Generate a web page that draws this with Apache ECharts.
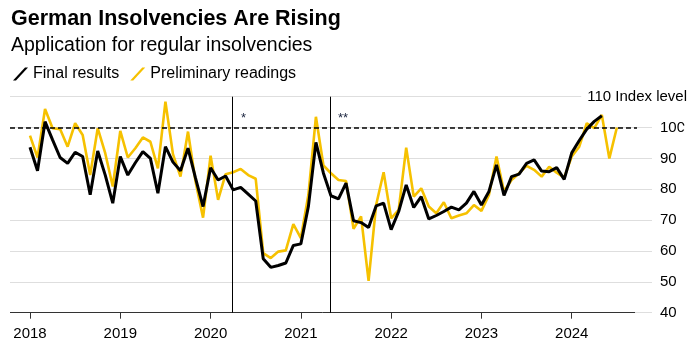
<!DOCTYPE html>
<html>
<head>
<meta charset="utf-8">
<script src="https://cdn.jsdelivr.net/npm/echarts@6/dist/echarts.min.js"></script>
<style>
  html, body { margin: 0; padding: 0; background: #fff; }
  #chart { width: 693px; height: 350px; }
</style>
</head>
<body>
<div id="chart"></div>
<script>
// monthly index values, first point = Jan 2018
var startYear = 2018;
var finalResults = [
  93.6, 86, 101.9, 96, 90.3, 88.4, 92, 90.6, 78.2, 92.4, 84.6, 75.5,
  90.6, 84.6, 88.6, 92.2, 90, 78.7, 93.8, 88.8, 86, 93.3, 83.6, 74.4,
  87, 83, 84.3, 79.8, 80.6, 78.4, 76.2, 57.5, 54.7, 55.3, 56.1, 61.8,
  62.3, 74.4, 95.2, 85.2, 77.9, 76.9, 82, 69.8, 69.2, 67.6, 74.6, 75.5,
  66.9, 72.8, 81.4, 74.1, 77.6, 70.4, 71.5, 72.8, 74.2, 73.3, 75.5, 79.3,
  74.9, 79.3, 87.9, 78, 84.1, 84.9, 88.4, 89.5, 85.9, 85.7, 87, 83.2,
  91.8, 95.8, 99.5, 102, 103.8
];
var preliminary = [
  97.4, 90.3, 106, 99.8, 99.5, 93.8, 101.4, 97.6, 84.6, 99.8, 91.7, 80.9,
  98.9, 90.3, 93.3, 96.8, 95.4, 86.8, 108.4, 91.4, 84.1, 98.7, 82.5, 70.8,
  90.9, 76.6, 84.9, 85.5, 86.6, 84.6, 83.4, 59.3, 57.7, 59.8, 60.2, 68.7,
  64.2, 78.2, 103.5, 87.7, 85.2, 83, 82.7, 67.2, 71.2, 50.3, 74.9, 85.5,
  70.6, 73.3, 93.5, 77.6, 80.3, 74.4, 72.2, 75.8, 70.6, 71.5, 72.2, 74.9,
  73, 78.2, 90.6, 79.3, 83, 85.2, 87.6, 86.3, 84.1, 87.3, 85.4, 83.8,
  90.6, 93.8, 101.4, 99.8, 104.1, 90, 100
];
var yearTicks = [2018, 2019, 2020, 2021, 2022, 2023, 2024];
var moratoriumLines = [2020.24, 2021.32]; // * and ** markers

var xMin = 2017.7785, xMax = 2024.889;
var fontFam = "'Liberation Sans', Arial, sans-serif";

function toPoints(arr) {
  return arr.map(function (v, i) { return [startYear + i / 12, v]; });
}

var chart = echarts.init(document.getElementById('chart'));
var option = {
  animation: false,
  textStyle: { fontFamily: fontFam },
  title: [{
    text: 'German Insolvencies Are Rising',
    left: 6, top: 3,
    textStyle: { fontSize: 21.5, fontWeight: 'bold', color: '#000', fontFamily: fontFam }
  }, {
    text: 'Application for regular insolvencies',
    left: 6, top: 31,
    textStyle: { fontSize: 19.5, fontWeight: 'normal', color: '#000', fontFamily: fontFam }
  }],
  legend: {
    left: 8, top: 61,
    itemWidth: 15, itemHeight: 13, itemGap: 11,
    icon: 'path://M0,13 L3,13 L15,0 L12,0 Z',
    data: ['Final results', 'Preliminary readings'],
    textStyle: { fontSize: 16, color: '#000', fontFamily: fontFam }
  },
  grid: { left: 10, right: 41, top: 96.7, bottom: 37.3 },
  xAxis: {
    type: 'value',
    min: xMin, max: xMax,
    axisLine: { show: false },
    axisTick: { show: true, customValues: yearTicks, length: 6, lineStyle: { color: '#333' } },
    axisLabel: {
      customValues: yearTicks, margin: 14, fontSize: 15, color: '#000',
      formatter: function (v) { return String(Math.round(v)); }
    },
    splitLine: { show: false }
  },
  yAxis: [{
    type: 'value', position: 'right',
    min: 40, max: 110, interval: 10,
    axisLine: { show: false }, axisTick: { show: false },
    axisLabel: {
      margin: 8, fontSize: 15, color: '#000', align: 'left',
      formatter: function (v) { return v === 110 ? '' : String(v); }
    },
    splitLine: { lineStyle: { color: '#dedede', width: 1 } }
  }, {
    type: 'value', position: 'right',
    min: 40, max: 110, interval: 10,
    axisLine: { show: false }, axisTick: { show: false },
    axisLabel: {
      margin: 35, fontSize: 15, color: '#000', align: 'right',
      backgroundColor: '#fff', padding: [2, 0, 2, 6],
      formatter: function (v) { return v === 110 ? '110 Index level' : ''; }
    },
    splitLine: { show: false }
  }],
  series: [{
    name: 'Preliminary readings',
    type: 'line',
    data: toPoints(preliminary),
    symbol: 'none',
    clip: false,
    z: 2,
    itemStyle: { color: '#f6c100' },
    lineStyle: { color: '#f6c100', width: 2.6 },
    markLine: {
      silent: true,
      symbol: ['none', 'none'],
      label: { show: false },
      data: [
        [{ coord: [xMin, 100], lineStyle: { color: '#000', width: 1.5, type: [5, 3] } }, { coord: [2024.723, 100] }],
        [{ coord: [xMin, 40], lineStyle: { color: '#333', width: 1, type: 'solid' } }, { coord: [2024.701, 40] }],
        [{ coord: [moratoriumLines[0], 40], lineStyle: { color: '#000', width: 1, type: 'solid' } }, { coord: [moratoriumLines[0], 110] }],
        [{ coord: [moratoriumLines[1], 40], lineStyle: { color: '#000', width: 1, type: 'solid' } }, { coord: [moratoriumLines[1], 110] }]
      ]
    }
  }, {
    name: 'Final results',
    type: 'line',
    data: toPoints(finalResults),
    symbol: 'none',
    clip: false,
    z: 3,
    itemStyle: { color: '#000' },
    lineStyle: { color: '#000', width: 3 }
  }],
  graphic: [
    { type: 'text', left: 241, top: 112, style: { text: '*', fontSize: 13, fill: '#1c2640', fontFamily: fontFam } },
    { type: 'text', left: 338, top: 112, style: { text: '**', fontSize: 13, fill: '#1c2640', fontFamily: fontFam } }
  ]
};
chart.setOption(option);
window.addEventListener('resize', chart.resize);
</script>
</body>
</html>
